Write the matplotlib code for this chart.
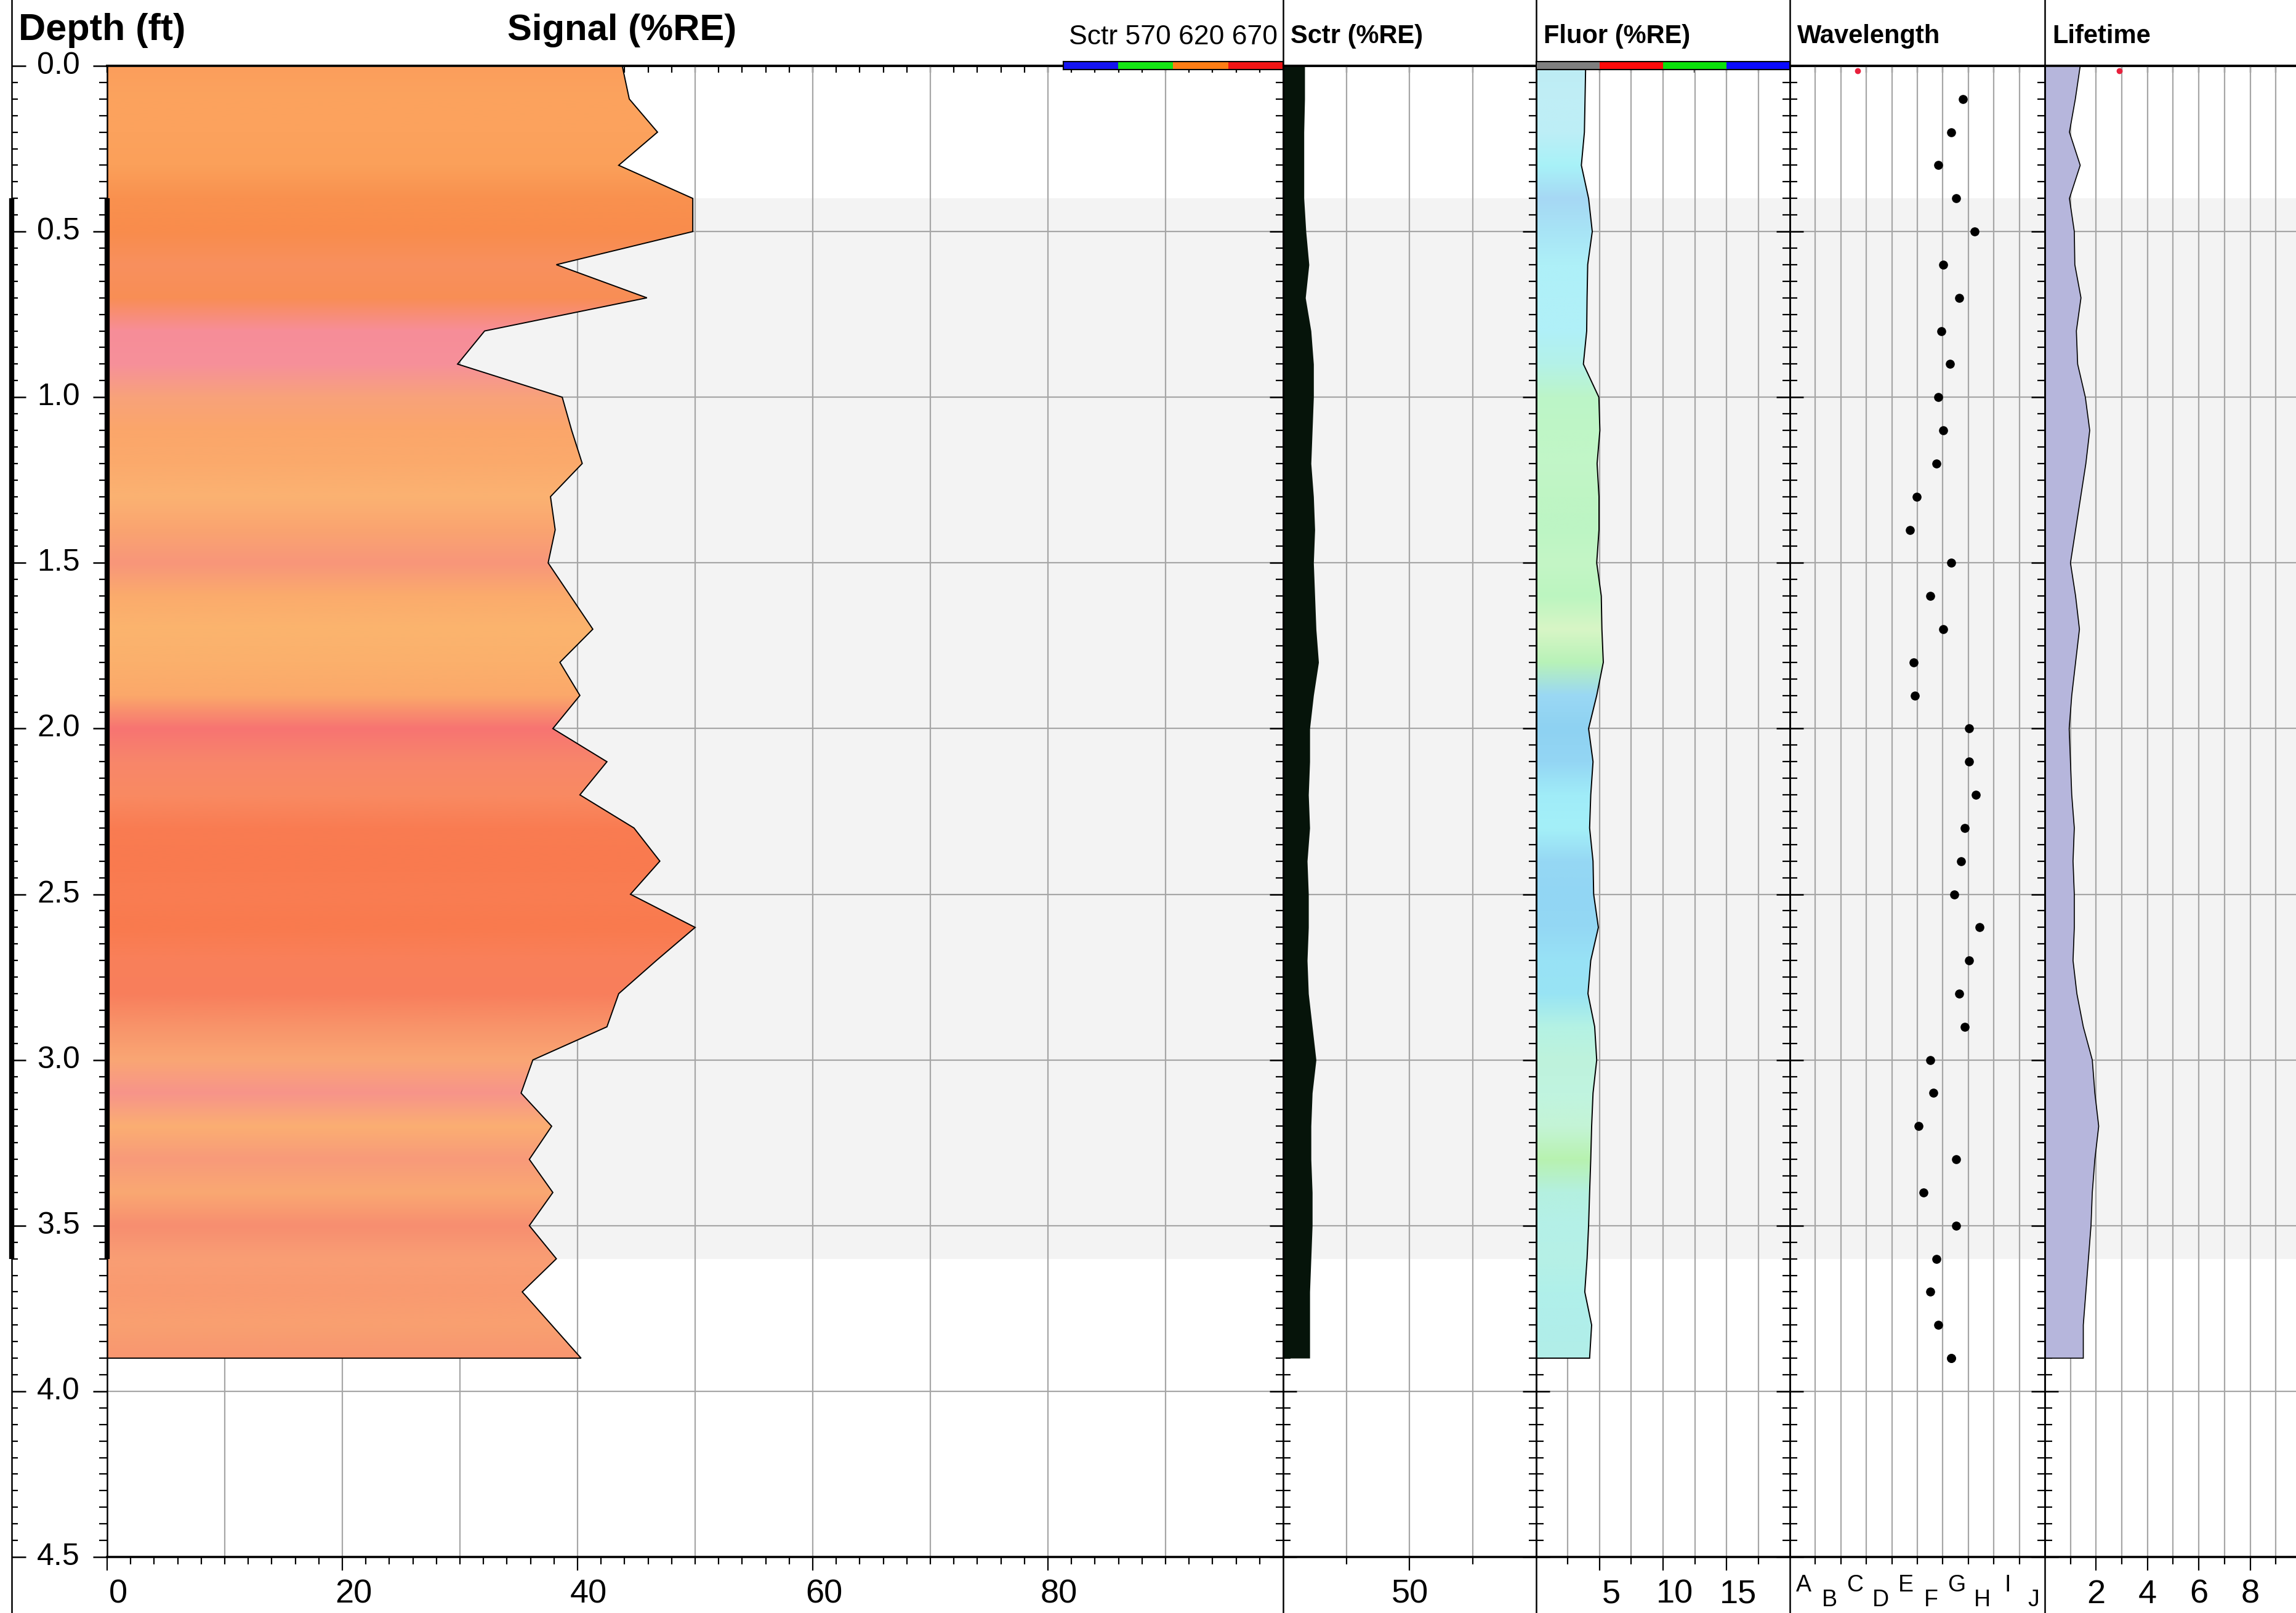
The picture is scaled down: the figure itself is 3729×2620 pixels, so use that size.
import numpy as np
import matplotlib
matplotlib.use('Agg')
import matplotlib.pyplot as plt
import matplotlib.ticker as ticker
import matplotlib.transforms as mtransforms
from matplotlib.patches import Polygon
from matplotlib.lines import Line2D
from matplotlib.colors import to_rgb

plt.rcParams['font.family'] = ['Liberation Sans', 'DejaVu Sans']

depth = [0.0, 0.1, 0.2, 0.3, 0.4, 0.5, 0.6, 0.7, 0.8, 0.9,
         1.0, 1.1, 1.2, 1.3, 1.4, 1.5, 1.6, 1.7, 1.8, 1.9,
         2.0, 2.1, 2.2, 2.3, 2.4, 2.5, 2.6, 2.7, 2.8, 2.9,
         3.0, 3.1, 3.2, 3.3, 3.4, 3.5, 3.6, 3.7, 3.8, 3.9]

signal = [43.8, 44.4, 46.8, 43.5, 49.8, 49.8, 38.2, 45.9, 32.1, 29.8,
          38.7, 39.5, 40.4, 37.7, 38.1, 37.5, 39.4, 41.3, 38.5, 40.2,
          37.9, 42.5, 40.2, 44.8, 47.0, 44.5, 50.0, 46.7, 43.5, 42.5,
          36.2, 35.2, 37.8, 35.9, 37.9, 35.9, 38.2, 35.3, 37.8, 40.3]

signal_colors = ['#fb9e5c', '#fca35e', '#fca25d', '#fba05a', '#f9914f',
                 '#f98c4c', '#f8905e', '#f98e55', '#f78d98', '#f6909a',
                 '#f8a27a', '#fba66a', '#fbaa6c', '#fbb272', '#faa470',
                 '#f8967a', '#fbab6c', '#fbb46e', '#fbb06c', '#fba86a',
                 '#f77472', '#f8866a', '#f98a62', '#f97c52', '#f97a4f',
                 '#f97d52', '#f97a4e', '#f9805a', '#f87e5c', '#f8946a',
                 '#faa674', '#f7948a', '#fbae72', '#f89a7a', '#faa872',
                 '#f78e70', '#f99e74', '#f99a70', '#f9a070', '#f89670']

sctr = [8.5, 8.5, 8.2, 8.2, 8.2, 9.0, 10.2, 8.8, 11.0, 12.0,
        12.0, 11.5, 11.0, 12.0, 12.5, 12.0, 12.5, 13.0, 14.0, 12.0,
        10.5, 10.5, 10.0, 10.5, 9.5, 10.0, 10.0, 9.5, 10.0, 11.5,
        13.0, 11.5, 11.0, 11.0, 11.5, 11.5, 11.0, 10.5, 10.5, 10.5]

fluor = [3.9, 3.85, 3.8, 3.56, 4.13, 4.42, 4.06, 4.01, 3.98, 3.72,
         4.94, 5.02, 4.8, 4.95, 4.95, 4.77, 5.13, 5.18, 5.29, 4.77,
         4.13, 4.48, 4.3, 4.21, 4.48, 4.53, 4.9, 4.3, 4.08, 4.61,
         4.77, 4.48, 4.37, 4.3, 4.21, 4.13, 4.01, 3.83, 4.37, 4.21]

fluor_colors = ['#bdecf4', '#c0eef6', '#bdeef6', '#a8f2f8', '#a6d8f4',
                '#a8e4f6', '#aef0f8', '#b0f0f8', '#b0f0f8', '#b4f2e8',
                '#bcf5c8', '#bff6c6', '#c2f6c8', '#bff5c4', '#bdf5c4',
                '#c4f6c6', '#bcf5c0', '#d8f6c6', '#b8f2b8', '#9ad8f4',
                '#8ed2f2', '#94d6f4', '#a0ecf8', '#a4f0f8', '#96d8f4',
                '#92d6f4', '#94d8f4', '#98e2f6', '#98e4f4', '#b4f2e4',
                '#bef2dc', '#c0f4e0', '#c4f4d6', '#b8f2b0', '#b4f0e0',
                '#b4f0e8', '#b6f0e6', '#b0f0ea', '#b0eeea', '#b2eee8']

wavelength = [6.78, 6.33, 5.81, 6.53, 7.24, 6.01, 6.65, 5.95, 6.27, 5.81,
              6.01, 5.75, 4.98, 4.72, 6.33, 5.50, 6.01, 4.85, 4.90, 7.04,
              7.04, 7.29, 6.85, 6.72, 6.46, 7.44, 7.04, 6.65, 6.85, 5.50,
              5.63, 5.05, 6.53, 5.24, 6.53, 5.75, 5.50, 5.81, 6.33, 6.33]
wave_depth = depth[1:] + [3.9]

lifetime = [1.38, 1.19, 0.96, 1.38, 0.96, 1.15, 1.17, 1.41, 1.23, 1.28,
            1.58, 1.75, 1.6, 1.4, 1.2, 1.0, 1.2, 1.35, 1.2, 1.05,
            0.95, 1.0, 1.05, 1.15, 1.1, 1.15, 1.15, 1.1, 1.25, 1.5,
            1.85, 1.95, 2.1, 1.95, 1.85, 1.8, 1.7, 1.6, 1.5, 1.5]

wave_letters = ['A', 'B', 'C', 'D', 'E', 'F', 'G', 'H', 'I', 'J']
sctr_legend_colors = ['#1414f0', '#14e614', '#ff7d14', '#f01414']
fluor_legend_colors = ['#7f7f7f', '#ff0a0a', '#0ae00a', '#0a0aff']
zone = (0.4, 3.6)
wave_ref = 2.66
life_ref = 2.9

# ---------------- layout ----------------
W, H = 3730, 2620
TOP, BOT = 107, 2529
DMAX = 4.5
GRID = '#a6a6a6'
ZONE = '#f3f3f3'

fig = plt.figure(figsize=(W / 100, H / 100), dpi=100)


def px(v):
    # pixels -> points at dpi 100
    return v * 0.72


def add_px_axes(x0, x1, y0=TOP, y1=BOT):
    return fig.add_axes([x0 / W, 1 - y1 / H, (x1 - x0) / W, (y1 - y0) / H])


def setup_track(ax, xmax, grid_x, major, minor, labels, left_dir='inout', shift=0):
    ax.set_xlim(0, xmax)
    ax.set_ylim(DMAX, 0)
    ax.axhspan(zone[0], zone[1], color=ZONE, lw=0, zorder=0)
    for g in grid_x:
        ax.axvline(g, color=GRID, lw=1.6, zorder=1)
    for d in np.arange(0.5, DMAX, 0.5):
        ax.axhline(d, color=GRID, lw=1.6, zorder=1)

    # depth ticks on the left boundary
    ax.set_yticks(np.arange(0, DMAX + 0.01, 0.5))
    ax.set_yticks(np.arange(0, DMAX + 0.01, 0.05), minor=True)
    ax.yaxis.set_major_formatter(ticker.NullFormatter())
    if left_dir == 'inout':
        ax.tick_params(axis='y', which='major', direction='inout', length=px(44), width=1.8, left=True, right=False)
        ax.tick_params(axis='y', which='minor', direction='inout', length=px(24), width=1.6, left=True, right=False)
    else:
        ax.tick_params(axis='y', which='major', direction='out', length=px(23), width=1.8, left=True, right=False)
        ax.tick_params(axis='y', which='minor', direction='out', length=px(13), width=1.6, left=True, right=False)

    # bottom scale
    ax.set_xticks(major)
    ax.set_xticklabels(labels)
    ax.set_xticks(minor, minor=True)
    ax.tick_params(axis='x', which='major', direction='out', length=px(22), width=1.6,
                   labelsize=39, pad=px(14))
    ax.tick_params(axis='x', which='minor', direction='out', length=px(12), width=1.6)
    if shift:
        off = mtransforms.ScaledTranslation(shift / 100, 0, fig.dpi_scale_trans)
        for lab in ax.get_xticklabels():
            lab.set_transform(lab.get_transform() + off)

    # small ticks pointing down from the top line
    sec = ax.secondary_xaxis('top')
    sec.set_xticks(sorted(list(major) + list(minor)))
    sec.xaxis.set_major_formatter(ticker.NullFormatter())
    sec.tick_params(axis='x', which='both', direction='in', length=px(11), width=1.6)
    sec.spines['top'].set_linewidth(2.6)

    ax.spines['top'].set_linewidth(2.6)
    ax.spines['bottom'].set_linewidth(2.6)
    ax.spines['left'].set_linewidth(1.8)
    ax.spines['right'].set_visible(False)
    for sp in ax.spines.values():
        sp.set_zorder(5)


def gradient_fill(ax, vals, cols, xmax):
    verts = [(0, depth[0])] + list(zip(vals, depth)) + [(0, depth[-1])]
    poly = Polygon(verts, closed=True, fc='none', ec='black', lw=1.4, zorder=4)
    ax.add_patch(poly)
    img = np.array([to_rgb(c) for c in cols])[:, None, :]
    step = depth[1] - depth[0]
    im = ax.imshow(img, extent=(0, xmax, depth[-1] + step / 2, depth[0] - step / 2),
                   aspect='auto', interpolation='bilinear', zorder=3)
    im.set_clip_path(poly)


# depth strip
ax_d = add_px_axes(19, 174)
ax_d.set_xlim(0, 1)
ax_d.set_ylim(DMAX, 0)
for sp in ax_d.spines.values():
    sp.set_visible(False)
ax_d.set_xticks([])
ax_d.set_yticks(np.arange(0, DMAX + 0.01, 0.5))
ax_d.set_yticks(np.arange(0, DMAX + 0.01, 0.05), minor=True)
ax_d.yaxis.set_major_formatter(ticker.NullFormatter())
ax_d.tick_params(axis='y', which='major', direction='in', length=px(23), width=1.8)
ax_d.tick_params(axis='y', which='minor', direction='in', length=px(10), width=1.6)
for d in np.arange(0, DMAX + 0.01, 0.5):
    ax_d.text(0.49, d, f'{d:.1f}', transform=ax_d.get_yaxis_transform(),
              ha='center', va='center', fontsize=36)
ax_d.plot([0, 0], zone, color='black', lw=6, solid_capstyle='butt', clip_on=False, zorder=6)

# signal track
ax_s = add_px_axes(174, 2084)
setup_track(ax_s, 100, np.arange(10, 100, 10), [0, 20, 40, 60, 80],
            np.arange(0, 100, 2), ['0', '20', '40', '60', '80'], left_dir='out', shift=18)
gradient_fill(ax_s, signal, signal_colors, 100)
ax_s.set_xlim(0, 100)
ax_s.set_ylim(DMAX, 0)
ax_s.plot([0, 0], zone, color='black', lw=6, solid_capstyle='butt', clip_on=False, zorder=6)

# scatter track
ax_c = add_px_axes(2084, 2495)
setup_track(ax_c, 100, [25, 50, 75], [50], [25, 75], ['50'])
ax_c.fill_betweenx(depth, 0, sctr, color='#06140a', lw=0, zorder=3)

# fluorescence track
ax_f = add_px_axes(2495, 2907)
setup_track(ax_f, 20, np.arange(2.5, 20, 2.5), [5, 10, 15], [2.5, 7.5, 12.5, 17.5],
            ['5', '10', '15'], shift=19)
gradient_fill(ax_f, fluor, fluor_colors, 20)
ax_f.set_xlim(0, 20)
ax_f.set_ylim(DMAX, 0)

# wavelength track
ax_w = add_px_axes(2907, 3321)
setup_track(ax_w, 10, np.arange(1, 10, 1), np.arange(1, 10, 1), [], [''] * 9)
ax_w.tick_params(axis='x', which='major', length=px(12))
ax_w.plot(wavelength, wave_depth, 'o', color='black', ms=9.5, ls='none', zorder=4)
ax_w.plot([wave_ref], [0.015], 'o', color='#e8203c', ms=6, clip_on=False, zorder=6)
for i, letter in enumerate(wave_letters):
    ax_w.text(i + 0.55, -0.019 if i % 2 == 0 else -0.029, letter,
              transform=ax_w.get_xaxis_transform(), ha='center', va='center', fontsize=27)

# lifetime track
ax_l = add_px_axes(3321, 3738)
setup_track(ax_l, 10, np.arange(1, 10, 1), [2, 4, 6, 8], [1, 3, 5, 7, 9], ['2', '4', '6', '8'])
life_poly = Polygon([(0, depth[0])] + list(zip(lifetime, depth)) + [(0, depth[-1])],
                    closed=True, fc='#b6b6dc', ec='black', lw=1.2, zorder=3)
ax_l.add_patch(life_poly)
ax_l.plot([life_ref], [0.015], 'o', color='#e8203c', ms=6, clip_on=False, zorder=6)

# separators running the full height
for x in [19, 2084, 2495, 2907, 3321]:
    fig.add_artist(Line2D([x / W, x / W], [0, 1], transform=fig.transFigure, color='black', lw=1.8))

# headers
fig.text(30 / W, 1 - 65 / H, 'Depth (ft)', fontsize=44, fontweight='bold', va='baseline')
fig.text(824 / W, 1 - 65 / H, 'Signal (%RE)', fontsize=43, fontweight='bold', va='baseline')
fig.text(1736 / W, 1 - 72 / H, 'Sctr 570 620 670', fontsize=32, va='baseline')
for ax, name in [(ax_c, 'Sctr (%RE)'), (ax_f, 'Fluor (%RE)'), (ax_w, 'Wavelength'), (ax_l, 'Lifetime')]:
    x0 = ax.get_position().x0
    fig.text(x0 + 12 / W, 1 - 70 / H, name, fontsize=30, fontweight='bold', va='baseline')


def legend_bar(x0, x1, cols):
    bx = fig.add_axes([x0 / W, 1 - 113 / H, (x1 - x0) / W, 13 / H], zorder=10)
    bx.bar(range(len(cols)), [1] * len(cols), width=1, align='edge', color=cols, lw=0)
    bx.set_xlim(0, len(cols))
    bx.set_ylim(0, 1)
    bx.set_xticks([])
    bx.set_yticks([])
    for sp in bx.spines.values():
        sp.set_linewidth(1.5)


legend_bar(1727, 2084, sctr_legend_colors)
legend_bar(2495, 2907, fluor_legend_colors)

fig.savefig('out.png', dpi=100, facecolor='white')
